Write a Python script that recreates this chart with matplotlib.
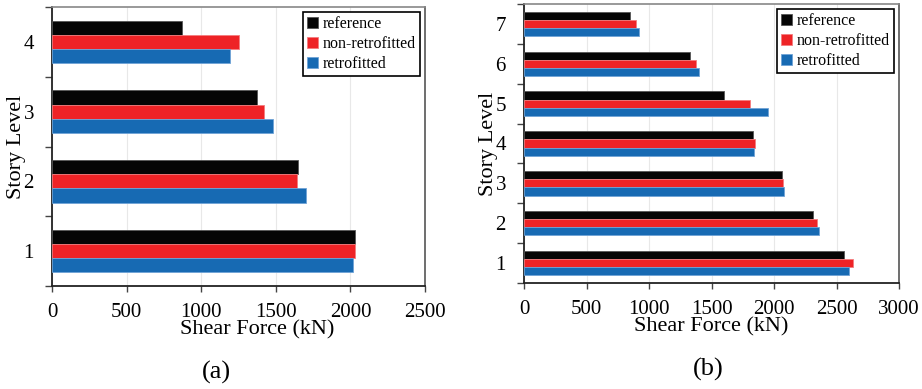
import numpy as np
import matplotlib
matplotlib.use("Agg")
from matplotlib import pyplot as plt

plt.rcParams['font.family'] = ['Liberation Serif', 'DejaVu Serif']

series = ['reference', 'non-retrofitted', 'retrofitted']
colors = ['#050505', '#EE2326', '#176AB3']
edges = ['#555555', '#F47C7E', '#6FA3D6']

# panel (a): 4-story building
levels_a = [1, 2, 3, 4]
ref_a = [2029, 1649, 1372, 873]
nonret_a = [2029, 1644, 1419, 1253]
ret_a = [2020, 1700, 1479, 1191]

# panel (b): 7-story building
levels_b = [1, 2, 3, 4, 5, 6, 7]
ref_b = [2562, 2308, 2065, 1835, 1598, 1325, 847]
nonret_b = [2632, 2346, 2071, 1846, 1809, 1376, 892]
ret_b = [2597, 2362, 2079, 1838, 1950, 1397, 922]

W, H = 922, 389
fig = plt.figure(figsize=(W / 100, H / 100), dpi=100)


def px_axes(l, t, r, b):
    return fig.add_axes([l / W, 1 - b / H, (r - l) / W, (b - t) / H])


def draw(ax, levels, data, xmax, xlabel_x, letter, letter_x):
    y = np.arange(1, len(levels) + 1)
    bh = 0.204
    offs = [bh, 0, -bh]
    for vals, c, ec, off, name in zip(data, colors, edges, offs, series):
        ax.barh(y + off, vals, height=bh, color=c, edgecolor=ec, linewidth=0.6, label=name, zorder=3)
    ax.set_xlim(0, xmax)
    ax.set_ylim(0.5, len(levels) + 0.5)
    ax.set_xticks(np.arange(0, xmax + 1, 500))
    ax.set_yticks(y)
    ax.set_yticklabels([str(v) for v in levels])
    ax.set_yticks(np.arange(0.5, len(levels) + 1, 1), minor=True)
    ax.tick_params(axis='y', which='major', length=0, labelsize=15, pad=13)
    ax.tick_params(axis='y', which='minor', length=5, width=1, color='#444444', direction='out')
    ax.tick_params(axis='x', length=4, width=1, color='#444444', direction='out', labelsize=15, pad=8)
    ax.grid(axis='x', color='#E8E8E8', linewidth=0.8, zorder=0)
    ax.set_axisbelow(True)
    for s in ['left', 'bottom']:
        ax.spines[s].set_color('#222222')
        ax.spines[s].set_linewidth(1.3)
    ax.spines['top'].set_color('#888888')
    ax.spines['right'].set_color('#555555')
    ax.spines['top'].set_linewidth(1.2)
    ax.spines['right'].set_linewidth(1.2)
    ax.set_xlabel('Shear Force (kN)', fontsize=16, labelpad=-1, x=xlabel_x)
    ax.set_ylabel('Story Level', fontsize=16, labelpad=-2)
    leg = ax.legend(loc='upper right', fontsize=11.5, frameon=True, fancybox=False,
                    edgecolor='black', framealpha=1, borderaxespad=0.3,
                    handlelength=0.7, handleheight=0.7, handletextpad=0.3,
                    labelspacing=0.25, borderpad=0.25)
    leg.get_frame().set_linewidth(1.2)
    ax.text(letter_x, -0.31, letter, transform=ax.transAxes, ha='center', va='center', fontsize=19)


ax1 = px_axes(52, 7, 425, 286)
draw(ax1, levels_a, [ref_a, nonret_a, ret_a], 2500, 0.55, '(a)', 0.44)

ax2 = px_axes(524, 4, 899, 283)
draw(ax2, levels_b, [ref_b, nonret_b, ret_b], 3000, 0.5, '(b)', 0.49)

fig.savefig('out.png', dpi=100)
